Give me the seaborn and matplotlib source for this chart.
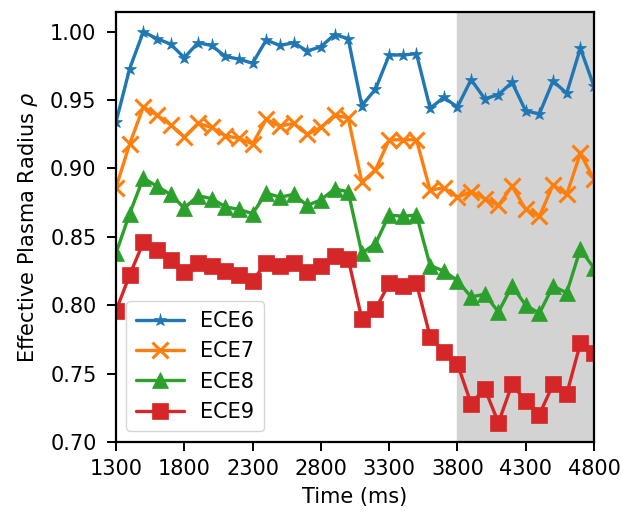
import matplotlib
matplotlib.use("Agg")
import matplotlib.pyplot as plt
import numpy as np
import pandas as pd
import seaborn as sns

time_ms = list(range(1300, 4900, 100))

ece6 = [0.934, 0.973, 1.000, 0.995, 0.991, 0.981, 0.992, 0.990, 0.982, 0.980,
        0.977, 0.994, 0.990, 0.992, 0.986, 0.989, 0.998, 0.995, 0.946, 0.958,
        0.983, 0.983, 0.984, 0.944, 0.952, 0.945, 0.965, 0.951, 0.954, 0.963,
        0.942, 0.940, 0.964, 0.955, 0.988, 0.960]
ece7 = [0.886, 0.918, 0.945, 0.939, 0.932, 0.923, 0.933, 0.930, 0.924, 0.922,
        0.918, 0.936, 0.931, 0.933, 0.925, 0.930, 0.939, 0.937, 0.890, 0.899,
        0.921, 0.921, 0.921, 0.884, 0.886, 0.879, 0.883, 0.878, 0.873, 0.887,
        0.870, 0.865, 0.888, 0.881, 0.911, 0.892]
ece8 = [0.838, 0.867, 0.893, 0.887, 0.881, 0.871, 0.880, 0.878, 0.872, 0.870,
        0.867, 0.882, 0.879, 0.881, 0.873, 0.877, 0.885, 0.883, 0.838, 0.845,
        0.866, 0.865, 0.866, 0.829, 0.825, 0.818, 0.806, 0.808, 0.795, 0.814,
        0.800, 0.794, 0.814, 0.809, 0.841, 0.827]
ece9 = [0.796, 0.822, 0.846, 0.840, 0.833, 0.824, 0.831, 0.829, 0.825, 0.822,
        0.818, 0.831, 0.829, 0.831, 0.824, 0.829, 0.836, 0.834, 0.790, 0.797,
        0.816, 0.814, 0.816, 0.777, 0.766, 0.757, 0.728, 0.739, 0.714, 0.742,
        0.730, 0.720, 0.742, 0.735, 0.772, 0.765]

channels = ["ECE6", "ECE7", "ECE8", "ECE9"]
markers = ["*", "x", "^", "s"]
shade_start, shade_end = 3800, 4800

df = pd.DataFrame({"Time": time_ms, "ECE6": ece6, "ECE7": ece7,
                   "ECE8": ece8, "ECE9": ece9})
long_df = df.melt(id_vars="Time", var_name="Channel", value_name="rho")

sns.set_theme(style="ticks", rc={"text.color": "black", "axes.labelcolor": "black",
                                 "xtick.color": "black", "ytick.color": "black",
                                 "axes.edgecolor": "black"})
plt.rcParams['font.family'] = ['DejaVu Sans']

fig = plt.figure(figsize=(6.22, 5.12), dpi=100)
ax = fig.add_axes([0.1865, 0.137, 0.7685, 0.8396])

# shaded window
ax.axvspan(shade_start, shade_end, color="lightgrey", zorder=0)

palette = sns.color_palette("tab10", 4)
sizes = {"*": 9.5, "x": 11, "^": 12, "s": 11.5}
for ch, mk, col in zip(channels, markers, palette):
    sub = long_df[long_df["Channel"] == ch]
    sns.lineplot(data=sub, x="Time", y="rho", ax=ax, color=col, marker=mk,
                 markersize=sizes[mk], linewidth=2.4,
                 markeredgewidth=2.2 if mk == "x" else 0.5,
                 markeredgecolor=col, label=ch)

ax.set_xlim(1300, 4800)
ax.set_ylim(0.70, 1.0145)
ax.set_xticks(np.arange(1300, 4801, 500))
ax.set_yticks(np.arange(0.70, 1.001, 0.05))
ax.set_xlabel("Time (ms)", fontsize=15, labelpad=6)
ax.set_ylabel(r"Effective Plasma Radius $\rho$", fontsize=15, labelpad=7.5)
ax.tick_params(labelsize=15, direction="out", length=6.5, width=1.4)
ax.tick_params(axis="x", pad=5.5)
ax.tick_params(axis="y", pad=7.5)
for s in ax.spines.values():
    s.set_visible(True)
    s.set_linewidth(1.6)
ax.legend(loc="lower left", fontsize=15, handlelength=2.3, borderpad=0.45)

fig.savefig("out.png", dpi=100)
